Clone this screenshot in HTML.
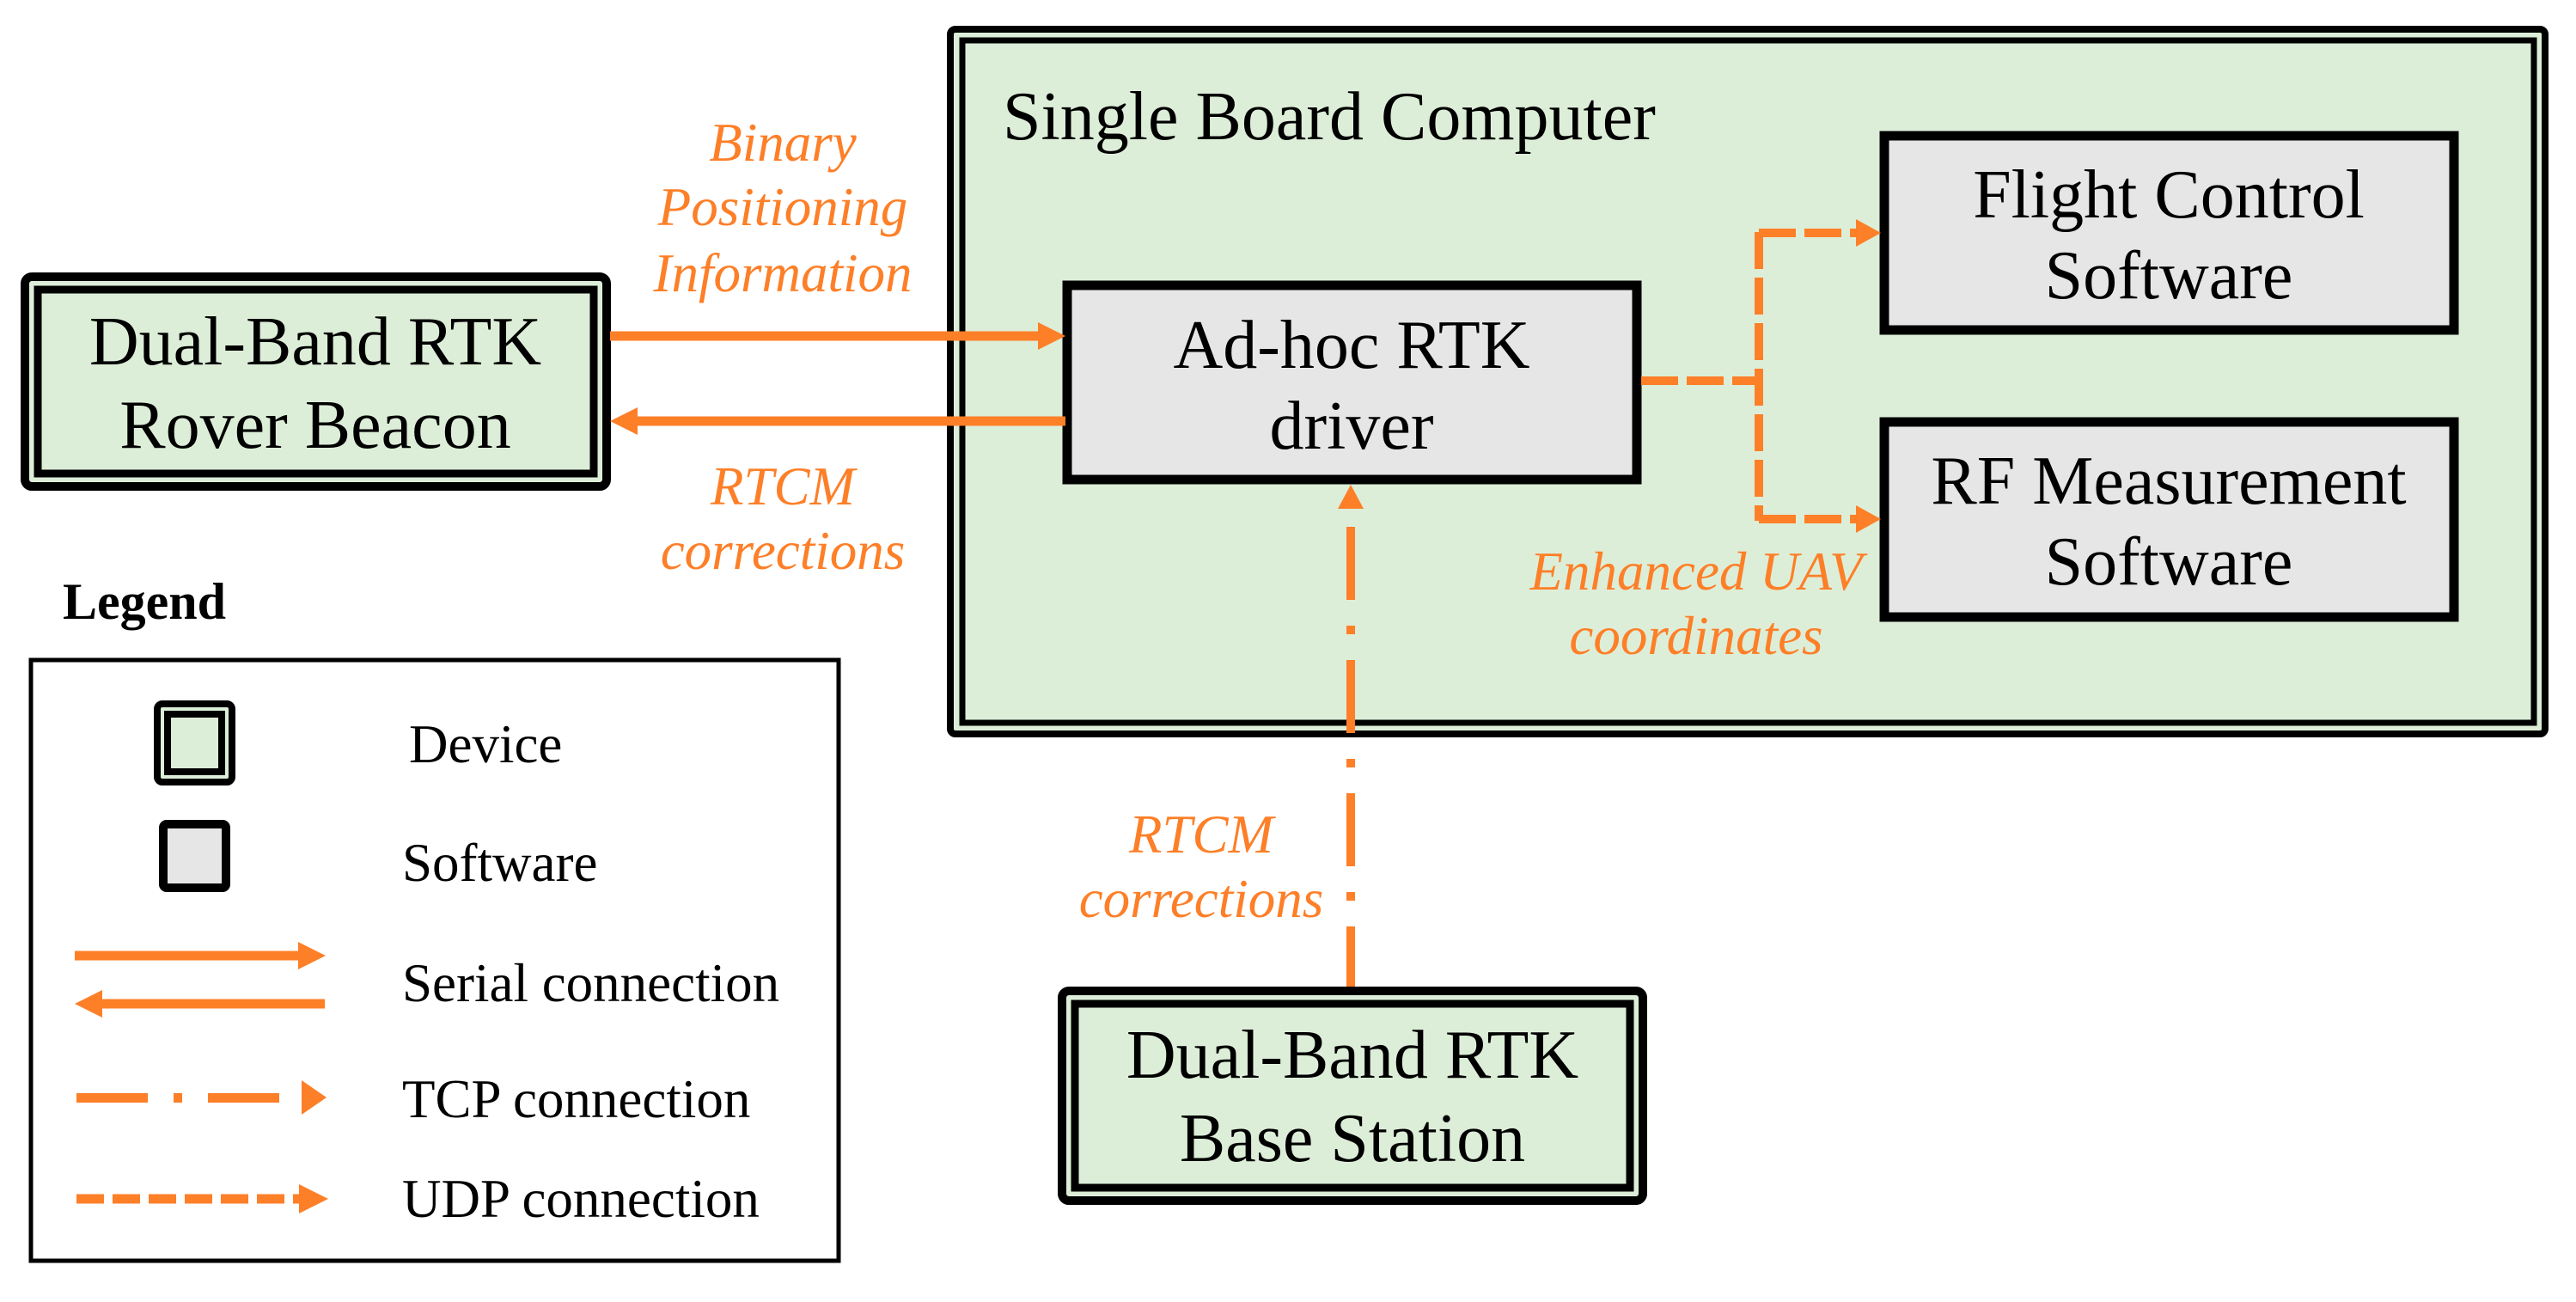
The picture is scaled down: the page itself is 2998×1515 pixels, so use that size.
<!DOCTYPE html>
<html><head><meta charset="utf-8"><style>
html,body{margin:0;padding:0;background:#fff;}
svg{display:block;}
text{font-family:"Liberation Serif","Times New Roman",serif;}
.b{font-size:80px;fill:#000;text-anchor:middle;}
.o{font-size:63px;fill:#fd7f28;font-style:italic;text-anchor:middle;}
.l{font-size:63px;fill:#000;}
</style></head><body>
<svg width="2998" height="1515" viewBox="0 0 2998 1515" xmlns="http://www.w3.org/2000/svg">
<!-- SBC -->
<rect x="1106" y="34" width="1856" height="820" rx="6" fill="#ddeed8" stroke="#000" stroke-width="8"/>
<rect x="1120" y="47" width="1829" height="794" fill="#ddeed8" stroke="#000" stroke-width="7"/>
<text x="1167" y="162" style="font-size:80px;fill:#000">Single Board Computer</text>

<!-- Rover -->
<rect x="29" y="322" width="677" height="244" rx="8" fill="#ddeed8" stroke="#000" stroke-width="10"/>
<rect x="44" y="337" width="647" height="214" fill="#ddeed8" stroke="#000" stroke-width="9"/>
<text class="b" x="367" y="424">Dual-Band RTK</text>
<text class="b" x="367" y="521">Rover Beacon</text>

<!-- Base -->
<rect x="1236" y="1153" width="676" height="244" rx="8" fill="#ddeed8" stroke="#000" stroke-width="10"/>
<rect x="1251" y="1168" width="646" height="214" fill="#ddeed8" stroke="#000" stroke-width="9"/>
<text class="b" x="1574" y="1254">Dual-Band RTK</text>
<text class="b" x="1574" y="1351">Base Station</text>

<!-- Ad-hoc -->
<rect x="1242" y="332" width="663" height="226" fill="#e6e6e6" stroke="#000" stroke-width="11"/>
<text class="b" x="1573" y="428">Ad-hoc RTK</text>
<text class="b" x="1573" y="522">driver</text>

<!-- Flight -->
<rect x="2193" y="158" width="663" height="226" fill="#e6e6e6" stroke="#000" stroke-width="11"/>
<text class="b" x="2524" y="253">Flight Control</text>
<text class="b" x="2524" y="347">Software</text>

<!-- RF -->
<rect x="2193" y="491" width="663" height="227" fill="#e6e6e6" stroke="#000" stroke-width="11"/>
<text class="b" x="2524" y="586">RF Measurement</text>
<text class="b" x="2524" y="680">Software</text>

<!-- Serial arrows -->
<line x1="710" y1="391" x2="1212" y2="391" stroke="#fd7f28" stroke-width="11"/>
<polygon points="1208,375 1240,391 1208,407" fill="#fd7f28"/>
<line x1="738" y1="490" x2="1240" y2="490" stroke="#fd7f28" stroke-width="11"/>
<polygon points="742,474 710,490 742,506" fill="#fd7f28"/>
<text class="o" x="911" y="187">Binary</text>
<text class="o" x="911" y="262">Positioning</text>
<text class="o" x="911" y="339">Information</text>
<text class="o" x="911" y="587">RTCM</text>
<text class="o" x="911" y="662">corrections</text>

<!-- UDP -->
<g stroke="#fd7f28" stroke-width="10" fill="none">
<line x1="1910" y1="443" x2="2047" y2="443" stroke-dasharray="43 10"/>
<line x1="2047" y1="270" x2="2047" y2="606" stroke-dasharray="43 10"/>
<line x1="2047" y1="271" x2="2165" y2="271" stroke-dasharray="43 10"/>
<line x1="2047" y1="604" x2="2165" y2="604" stroke-dasharray="43 10"/>
</g>
<polygon points="2160,255 2189,271 2160,287" fill="#fd7f28"/>
<polygon points="2160,588 2189,604 2160,620" fill="#fd7f28"/>
<text class="o" x="1974" y="686">Enhanced UAV</text>
<text class="o" x="1974" y="761">coordinates</text>

<!-- TCP -->
<line x1="1572" y1="1148" x2="1572" y2="600" stroke="#fd7f28" stroke-width="10" stroke-dasharray="85 30 10 30" stroke-dashoffset="15"/>
<polygon points="1557,592 1572,564 1587,592" fill="#fd7f28"/>
<text class="o" x="1398" y="992">RTCM</text>
<text class="o" x="1398" y="1067">corrections</text>

<!-- Legend -->
<text x="73" y="720" style="font-size:60px;font-weight:bold;fill:#000">Legend</text>
<rect x="36" y="768" width="940" height="699" fill="#fff" stroke="#000" stroke-width="5"/>
<rect x="183" y="819" width="87" height="91" rx="6" fill="#ddeed8" stroke="#000" stroke-width="8"/>
<rect x="195" y="831" width="63" height="67" fill="#ddeed8" stroke="#000" stroke-width="8"/>
<rect x="190" y="959" width="73" height="74" rx="4" fill="#e6e6e6" stroke="#000" stroke-width="10"/>
<text class="l" x="476" y="887">Device</text>
<text class="l" x="468" y="1025">Software</text>
<text class="l" x="468" y="1165">Serial connection</text>
<text class="l" x="468" y="1300">TCP connection</text>
<text class="l" x="468" y="1416">UDP connection</text>
<line x1="87" y1="1112" x2="350" y2="1112" stroke="#fd7f28" stroke-width="11"/>
<polygon points="347,1096 379,1112 347,1128" fill="#fd7f28"/>
<line x1="115" y1="1168" x2="378" y2="1168" stroke="#fd7f28" stroke-width="11"/>
<polygon points="119,1152 87,1168 119,1184" fill="#fd7f28"/>
<g fill="#fd7f28">
<rect x="89" y="1272" width="83" height="11"/>
<rect x="202" y="1272" width="10" height="11"/>
<rect x="242" y="1272" width="83" height="11"/>
<polygon points="351,1257 380,1277 351,1297"/>
</g>
<line x1="89" y1="1395" x2="350" y2="1395" stroke="#fd7f28" stroke-width="11" stroke-dasharray="32 10"/>
<polygon points="348,1378 382,1395 348,1412" fill="#fd7f28"/>
</svg>
</body></html>
